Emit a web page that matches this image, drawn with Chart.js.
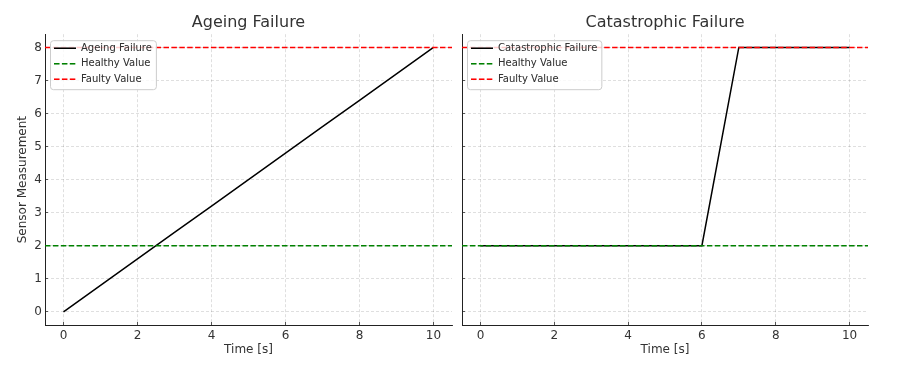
<!DOCTYPE html>
<html>
<head>
<meta charset="utf-8">
<script src="https://cdn.jsdelivr.net/npm/chart.js@4.4.0/dist/chart.umd.min.js"></script>
<style>
html, body { margin: 0; padding: 0; background: #fff; }
.panel { position: absolute; top: 0; height: 365px; }
#leftPanel { left: 0; width: 456px; }
#rightPanel { left: 456px; width: 448px; }
</style>
</head>
<body>
<div class="panel" id="leftPanel"><canvas id="ageingChart"></canvas></div>
<div class="panel" id="rightPanel"><canvas id="catastrophicChart"></canvas></div>
<script>
// Data
const timeSeconds = [0, 1, 2, 3, 4, 5, 6, 7, 8, 9, 10];
const ageingValues = [0, 0.8, 1.6, 2.4, 3.2, 4.0, 4.8, 5.6, 6.4, 7.2, 8.0];
const catastrophicValues = [2, 2, 2, 2, 2, 2, 2, 8, 8, 8, 8];
const healthyValue = 2;
const faultyValue = 8;
const timeRange = [-0.5, 10.5];
const measurementRange = [-0.4, 8.4];
const timeTicks = [0, 2, 4, 6, 8, 10];
const measurementTicks = [0, 1, 2, 3, 4, 5, 6, 7, 8];

const textColor = '#333333';
const gridColor = 'rgba(0,0,0,0.16)';
const fontFamily = '"DejaVu Sans", sans-serif';

// title centred on the plot area, legend drawn on top of the lines with a translucent box
const panelLayout = {
    id: 'panelLayout',
    afterLayout(chart) {
        const area = chart.chartArea;
        const tb = chart.titleBlock;
        tb.left = area.left;
        tb.right = area.right;
        const lg = chart.legend;
        lg.left = area.left + 3.5;
        lg.top = area.top + 3.5;
        lg.right = lg.left + lg.width;
        lg.bottom = lg.top + lg.height;
    },
    afterDatasetsDraw(chart) {
        const lg = chart.legend;
        const hb = lg.legendHitBoxes;
        if (!hb || !hb.length) return;
        const ctx = chart.ctx;
        const x0 = hb[0].left - 4;
        const y0 = hb[0].top - 3;
        const x1 = Math.max(...hb.map(h => h.left + h.width)) + 4;
        const y1 = hb[hb.length - 1].top + hb[hb.length - 1].height + 5;
        ctx.save();
        ctx.beginPath();
        ctx.roundRect(x0 + 0.5, y0 + 0.5, x1 - x0, y1 - y0, 3);
        ctx.fillStyle = 'rgba(255,255,255,0.8)';
        ctx.fill();
        ctx.strokeStyle = '#cccccc';
        ctx.lineWidth = 1;
        ctx.stroke();
        ctx.restore();
        lg.draw();
    }
};

function toPoints(xs, ys) {
    return xs.map((x, i) => ({ x: x, y: ys[i] }));
}

function legendLabels(chart) {
    const items = Chart.defaults.plugins.legend.labels.generateLabels(chart);
    items.forEach(item => {
        const ds = chart.data.datasets[item.datasetIndex];
        item.lineDash = ds.borderDash || [];
        item.lineWidth = ds.borderWidth;
        item.strokeStyle = ds.borderColor;
    });
    return items;
}

function createPanel(canvasId, title, seriesLabel, seriesValues, showYLabels, yWidth, padRight) {
    const ctx = document.getElementById(canvasId).getContext('2d');
    return new Chart(ctx, {
        type: 'line',
        data: {
            datasets: [
                {
                    label: seriesLabel,
                    data: toPoints(timeSeconds, seriesValues),
                    borderColor: '#000000',
                    borderWidth: 1.5,
                    pointRadius: 0,
                    order: 3
                },
                {
                    label: 'Healthy Value',
                    data: toPoints(timeRange, [healthyValue, healthyValue]),
                    borderColor: '#008000',
                    borderWidth: 1.5,
                    borderDash: [5.5, 2.4],
                    pointRadius: 0,
                    order: 2
                },
                {
                    label: 'Faulty Value',
                    data: toPoints(timeRange, [faultyValue, faultyValue]),
                    borderColor: '#ff0000',
                    borderWidth: 1.5,
                    borderDash: [5.5, 2.4],
                    pointRadius: 0,
                    order: 1
                }
            ]
        },
        options: {
            responsive: true,
            maintainAspectRatio: false,
            animation: false,
            layout: { padding: { left: 0, right: padRight, top: 0, bottom: 0 } },
            plugins: {
                title: {
                    display: true,
                    text: title,
                    color: textColor,
                    font: { family: fontFamily, size: 16, weight: 'normal' },
                    padding: { top: 13, bottom: 2 }
                },
                legend: {
                    position: 'chartArea',
                    align: 'start',
                    labels: {
                        usePointStyle: true,
                        pointStyle: 'line',
                        pointStyleWidth: 22,
                        padding: 5.5,
                        color: textColor,
                        font: { family: fontFamily, size: 10 },
                        generateLabels: legendLabels,
                        sort: (a, b) => a.datasetIndex - b.datasetIndex
                    }
                },
                tooltip: { enabled: false }
            },
            scales: {
                x: {
                    type: 'linear',
                    min: timeRange[0],
                    max: timeRange[1],
                    afterBuildTicks: axis => { axis.ticks = timeTicks.map(v => ({ value: v })); },
                    afterFit: axis => { axis.height = 40; },
                    grid: { color: gridColor, lineWidth: 0.8, drawTicks: true, tickLength: -3, tickColor: '#555555', tickWidth: 1 },
                    border: { display: true, color: '#222222', width: 1, dash: [3, 2] },
                    ticks: {
                        color: textColor,
                        padding: 7,
                        maxRotation: 0,
                        font: { family: fontFamily, size: 12 }
                    },
                    title: {
                        display: true,
                        text: 'Time [s]',
                        color: textColor,
                        font: { family: fontFamily, size: 12 },
                        padding: { top: 0, bottom: 8 }
                    }
                },
                y: {
                    type: 'linear',
                    min: measurementRange[0],
                    max: measurementRange[1],
                    afterBuildTicks: axis => { axis.ticks = measurementTicks.map(v => ({ value: v })); },
                    afterFit: axis => { axis.width = yWidth; },
                    grid: { color: gridColor, lineWidth: 0.8, drawTicks: true, tickLength: -3, tickColor: '#555555', tickWidth: 1 },
                    border: { display: true, color: '#222222', width: 1, dash: [3, 2] },
                    ticks: {
                        display: showYLabels,
                        color: textColor,
                        padding: 6,
                        font: { family: fontFamily, size: 12 }
                    },
                    title: {
                        display: showYLabels,
                        text: 'Sensor Measurement',
                        color: textColor,
                        font: { family: fontFamily, size: 12 },
                        padding: { top: 16, bottom: 0 }
                    }
                }
            }
        },
        plugins: [panelLayout]
    });
}

createPanel('ageingChart', 'Ageing Failure', 'Ageing Failure', ageingValues, true, 45, 4);
createPanel('catastrophicChart', 'Catastrophic Failure', 'Catastrophic Failure', catastrophicValues, false, 6, 36);
</script>
</body>
</html>
